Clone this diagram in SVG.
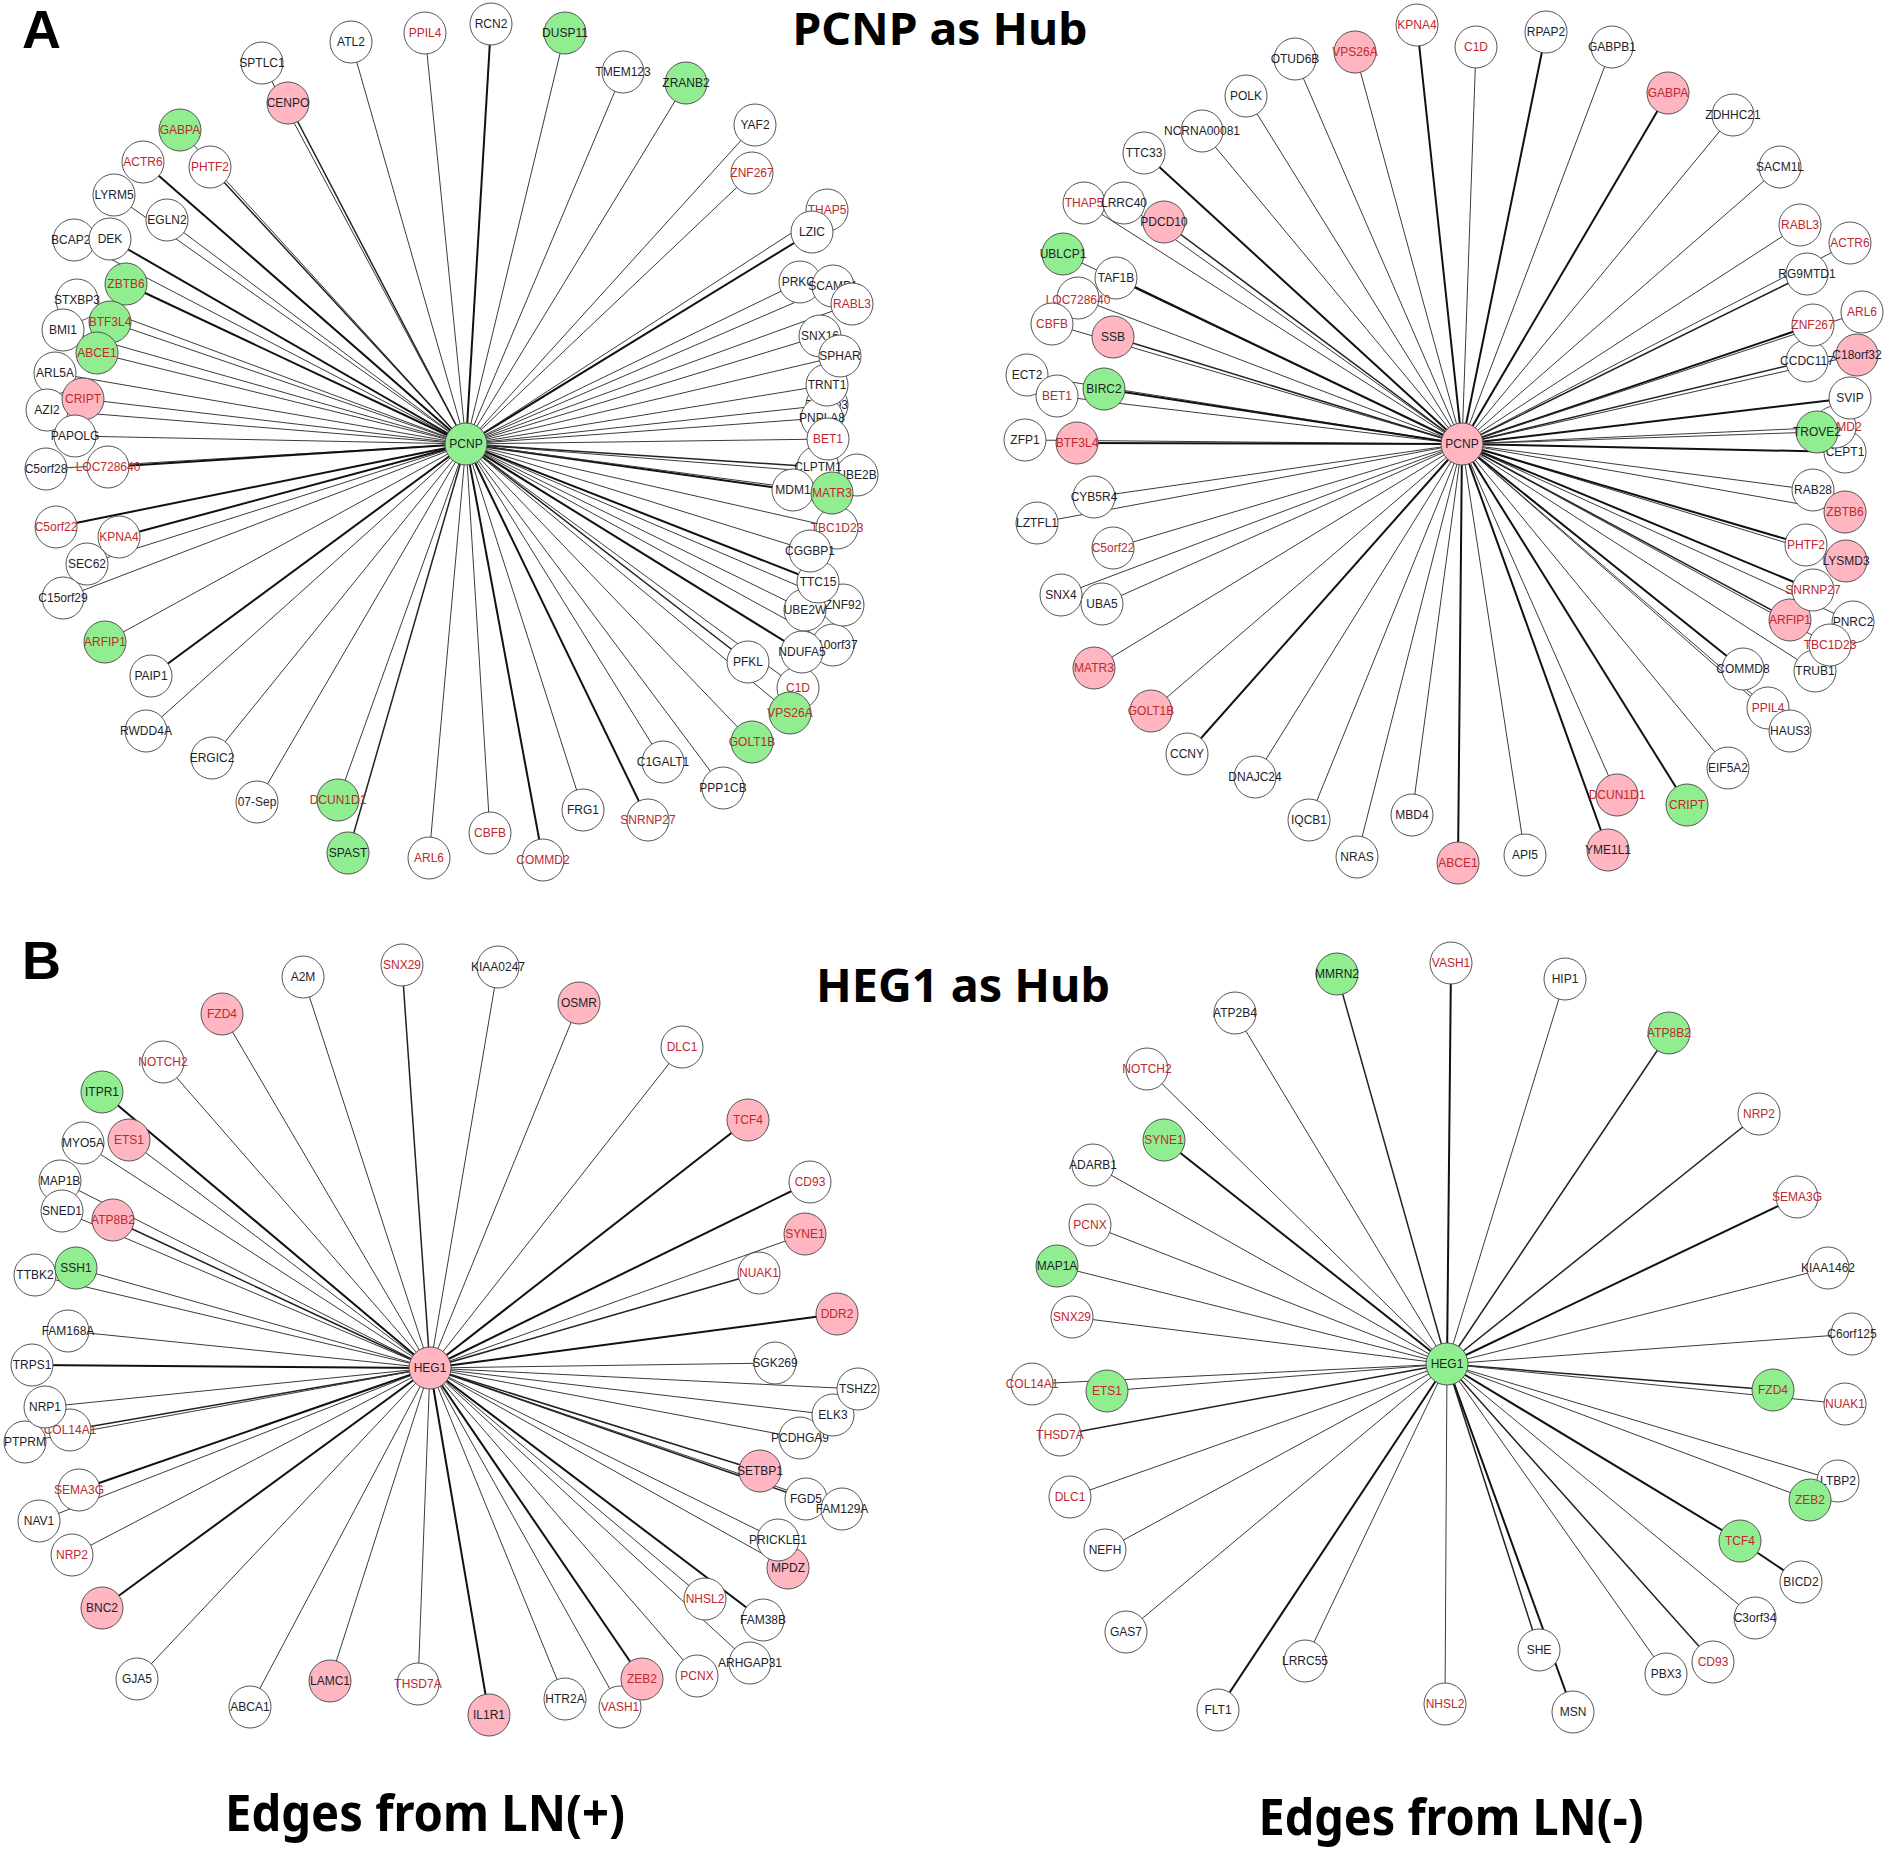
<svg xmlns="http://www.w3.org/2000/svg" width="1887" height="1850" viewBox="0 0 1887 1850">
<style>
.n circle{stroke:#555;stroke-width:1}
.w circle{fill:#fff}.p circle{fill:#ffb6c1}.g circle{fill:#90ee90}
.n text{font-family:"Liberation Sans",Arial,sans-serif;font-size:12px;text-anchor:middle}
.k text{fill:#1e1e2a}.r text{fill:#c0282d}
#connectors line{stroke:#3a3a3a;stroke-width:1}
#connectors line.b{stroke:#111;stroke-width:2}
#connectors line.m{stroke:#222;stroke-width:1.5}
.ttl{font-family:"Noto Sans","Noto Sans CJK KR",sans-serif;font-weight:bold;fill:#000;text-anchor:middle}
.pl{font-family:"Liberation Sans",Arial,sans-serif;font-weight:bold;fill:#000;font-size:54px}
</style>
<rect width="1887" height="1850" fill="#fff"/>
<g id="connectors">
<line x1="466" y1="444" x2="262" y2="63"/><line x1="466" y1="444" x2="351" y2="42"/><line x1="466" y1="444" x2="425" y2="33"/><line class="m" x1="466" y1="444" x2="288" y2="103"/><line x1="466" y1="444" x2="180" y2="130"/><line class="b" x1="466" y1="444" x2="143" y2="162"/><line class="m" x1="466" y1="444" x2="210" y2="167"/><line x1="466" y1="444" x2="114" y2="195"/><line x1="466" y1="444" x2="167" y2="220"/><line x1="466" y1="444" x2="74" y2="240"/><line class="b" x1="466" y1="444" x2="110" y2="239"/><line class="b" x1="466" y1="444" x2="126" y2="284"/><line x1="466" y1="444" x2="77" y2="300"/><line x1="466" y1="444" x2="110" y2="322"/><line x1="466" y1="444" x2="63" y2="330"/><line x1="466" y1="444" x2="97" y2="353"/><line x1="466" y1="444" x2="55" y2="373"/><line x1="466" y1="444" x2="83" y2="399"/><line x1="466" y1="444" x2="47" y2="410"/><line x1="466" y1="444" x2="75" y2="436"/><line x1="466" y1="444" x2="46" y2="469"/><line class="b" x1="466" y1="444" x2="108" y2="467"/><line class="b" x1="466" y1="444" x2="56" y2="527"/><line class="b" x1="466" y1="444" x2="119" y2="537"/><line x1="466" y1="444" x2="87" y2="564"/><line x1="466" y1="444" x2="63" y2="598"/><line x1="466" y1="444" x2="105" y2="642"/><line class="b" x1="466" y1="444" x2="151" y2="676"/><line x1="466" y1="444" x2="146" y2="731"/><line x1="466" y1="444" x2="212" y2="758"/><line x1="466" y1="444" x2="257" y2="802"/><line x1="466" y1="444" x2="338" y2="800"/><line class="m" x1="466" y1="444" x2="348" y2="853"/><line x1="466" y1="444" x2="429" y2="858"/><line x1="466" y1="444" x2="490" y2="833"/><line class="b" x1="466" y1="444" x2="543" y2="860"/><line x1="466" y1="444" x2="583" y2="810"/><line class="b" x1="466" y1="444" x2="648" y2="820"/><line x1="466" y1="444" x2="663" y2="762"/><line x1="466" y1="444" x2="723" y2="788"/><line x1="466" y1="444" x2="752" y2="742"/><line x1="466" y1="444" x2="790" y2="713"/><line x1="466" y1="444" x2="798" y2="688"/><line class="m" x1="466" y1="444" x2="748" y2="662"/><line class="b" x1="466" y1="444" x2="802" y2="652"/><line x1="466" y1="444" x2="833" y2="645"/><line x1="466" y1="444" x2="805" y2="610"/><line x1="466" y1="444" x2="843" y2="605"/><line class="b" x1="466" y1="444" x2="818" y2="582"/><line x1="466" y1="444" x2="810" y2="551"/><line x1="466" y1="444" x2="837" y2="528"/><line class="b" x1="466" y1="444" x2="793" y2="490"/><line x1="466" y1="444" x2="832" y2="493"/><line x1="466" y1="444" x2="857" y2="475"/><line class="m" x1="466" y1="444" x2="818" y2="467"/><line x1="466" y1="444" x2="828" y2="439"/><line x1="466" y1="444" x2="822" y2="418"/><line x1="466" y1="444" x2="827" y2="405"/><line x1="466" y1="444" x2="827" y2="385"/><line x1="466" y1="444" x2="840" y2="356"/><line x1="466" y1="444" x2="820" y2="336"/><line x1="466" y1="444" x2="852" y2="304"/><line x1="466" y1="444" x2="833" y2="286"/><line x1="466" y1="444" x2="800" y2="282"/><line class="b" x1="466" y1="444" x2="812" y2="232"/><line x1="466" y1="444" x2="827" y2="210"/><line x1="466" y1="444" x2="752" y2="173"/><line x1="466" y1="444" x2="755" y2="125"/><line x1="466" y1="444" x2="686" y2="83"/><line x1="466" y1="444" x2="623" y2="72"/><line x1="466" y1="444" x2="565" y2="33"/><line class="b" x1="466" y1="444" x2="491" y2="24"/>
<line class="b" x1="1462" y1="444" x2="1417" y2="25"/><line x1="1462" y1="444" x2="1355" y2="52"/><line x1="1462" y1="444" x2="1295" y2="59"/><line x1="1462" y1="444" x2="1246" y2="96"/><line x1="1462" y1="444" x2="1202" y2="131"/><line class="b" x1="1462" y1="444" x2="1144" y2="153"/><line x1="1462" y1="444" x2="1084" y2="203"/><line x1="1462" y1="444" x2="1124" y2="203"/><line class="m" x1="1462" y1="444" x2="1164" y2="222"/><line x1="1462" y1="444" x2="1063" y2="254"/><line class="b" x1="1462" y1="444" x2="1116" y2="278"/><line x1="1462" y1="444" x2="1078" y2="298"/><line x1="1462" y1="444" x2="1052" y2="324"/><line class="m" x1="1462" y1="444" x2="1113" y2="337"/><line x1="1462" y1="444" x2="1027" y2="375"/><line x1="1462" y1="444" x2="1057" y2="396"/><line class="b" x1="1462" y1="444" x2="1104" y2="389"/><line x1="1462" y1="444" x2="1025" y2="440"/><line class="b" x1="1462" y1="444" x2="1077" y2="443"/><line x1="1462" y1="444" x2="1094" y2="497"/><line x1="1462" y1="444" x2="1037" y2="523"/><line x1="1462" y1="444" x2="1113" y2="548"/><line x1="1462" y1="444" x2="1061" y2="595"/><line x1="1462" y1="444" x2="1102" y2="604"/><line x1="1462" y1="444" x2="1094" y2="668"/><line x1="1462" y1="444" x2="1151" y2="711"/><line class="b" x1="1462" y1="444" x2="1187" y2="754"/><line x1="1462" y1="444" x2="1255" y2="777"/><line x1="1462" y1="444" x2="1309" y2="820"/><line x1="1462" y1="444" x2="1357" y2="857"/><line x1="1462" y1="444" x2="1412" y2="815"/><line class="b" x1="1462" y1="444" x2="1458" y2="863"/><line x1="1462" y1="444" x2="1525" y2="855"/><line class="b" x1="1462" y1="444" x2="1608" y2="850"/><line x1="1462" y1="444" x2="1617" y2="795"/><line class="b" x1="1462" y1="444" x2="1687" y2="805"/><line x1="1462" y1="444" x2="1728" y2="768"/><line x1="1462" y1="444" x2="1790" y2="731"/><line x1="1462" y1="444" x2="1768" y2="708"/><line class="b" x1="1462" y1="444" x2="1743" y2="669"/><line x1="1462" y1="444" x2="1815" y2="671"/><line x1="1462" y1="444" x2="1830" y2="645"/><line x1="1462" y1="444" x2="1853" y2="622"/><line class="m" x1="1462" y1="444" x2="1790" y2="620"/><line class="b" x1="1462" y1="444" x2="1813" y2="590"/><line x1="1462" y1="444" x2="1846" y2="561"/><line class="b" x1="1462" y1="444" x2="1806" y2="545"/><line x1="1462" y1="444" x2="1845" y2="512"/><line x1="1462" y1="444" x2="1813" y2="490"/><line class="b" x1="1462" y1="444" x2="1845" y2="452"/><line x1="1462" y1="444" x2="1817" y2="432"/><line x1="1462" y1="444" x2="1835" y2="427"/><line class="b" x1="1462" y1="444" x2="1850" y2="398"/><line x1="1462" y1="444" x2="1857" y2="355"/><line class="m" x1="1462" y1="444" x2="1807" y2="361"/><line class="b" x1="1462" y1="444" x2="1813" y2="325"/><line x1="1462" y1="444" x2="1862" y2="312"/><line class="m" x1="1462" y1="444" x2="1807" y2="274"/><line x1="1462" y1="444" x2="1850" y2="243"/><line x1="1462" y1="444" x2="1800" y2="225"/><line x1="1462" y1="444" x2="1780" y2="167"/><line x1="1462" y1="444" x2="1733" y2="115"/><line class="b" x1="1462" y1="444" x2="1668" y2="93"/><line x1="1462" y1="444" x2="1612" y2="47"/><line class="b" x1="1462" y1="444" x2="1546" y2="32"/><line x1="1462" y1="444" x2="1476" y2="47"/>
<line x1="430" y1="1368" x2="303" y2="977"/><line class="m" x1="430" y1="1368" x2="402" y2="965"/><line x1="430" y1="1368" x2="222" y2="1014"/><line x1="430" y1="1368" x2="163" y2="1062"/><line class="b" x1="430" y1="1368" x2="102" y2="1092"/><line x1="430" y1="1368" x2="83" y2="1143"/><line x1="430" y1="1368" x2="129" y2="1140"/><line x1="430" y1="1368" x2="60" y2="1181"/><line x1="430" y1="1368" x2="62" y2="1211"/><line class="m" x1="430" y1="1368" x2="113" y2="1220"/><line x1="430" y1="1368" x2="35" y2="1275"/><line x1="430" y1="1368" x2="76" y2="1268"/><line x1="430" y1="1368" x2="68" y2="1331"/><line class="b" x1="430" y1="1368" x2="32" y2="1365"/><line x1="430" y1="1368" x2="45" y2="1407"/><line class="m" x1="430" y1="1368" x2="70" y2="1430"/><line x1="430" y1="1368" x2="25" y2="1442"/><line class="b" x1="430" y1="1368" x2="79" y2="1490"/><line x1="430" y1="1368" x2="39" y2="1521"/><line x1="430" y1="1368" x2="72" y2="1555"/><line class="b" x1="430" y1="1368" x2="102" y2="1608"/><line x1="430" y1="1368" x2="137" y2="1679"/><line x1="430" y1="1368" x2="250" y2="1707"/><line x1="430" y1="1368" x2="330" y2="1681"/><line x1="430" y1="1368" x2="418" y2="1684"/><line class="b" x1="430" y1="1368" x2="489" y2="1715"/><line x1="430" y1="1368" x2="565" y2="1699"/><line x1="430" y1="1368" x2="620" y2="1707"/><line class="b" x1="430" y1="1368" x2="642" y2="1679"/><line x1="430" y1="1368" x2="697" y2="1676"/><line x1="430" y1="1368" x2="750" y2="1663"/><line class="b" x1="430" y1="1368" x2="763" y2="1620"/><line x1="430" y1="1368" x2="705" y2="1599"/><line x1="430" y1="1368" x2="788" y2="1568"/><line x1="430" y1="1368" x2="778" y2="1540"/><line x1="430" y1="1368" x2="842" y2="1509"/><line class="m" x1="430" y1="1368" x2="806" y2="1499"/><line class="m" x1="430" y1="1368" x2="760" y2="1471"/><line x1="430" y1="1368" x2="800" y2="1438"/><line x1="430" y1="1368" x2="833" y2="1415"/><line x1="430" y1="1368" x2="858" y2="1389"/><line x1="430" y1="1368" x2="775" y2="1363"/><line class="b" x1="430" y1="1368" x2="837" y2="1314"/><line class="m" x1="430" y1="1368" x2="759" y2="1273"/><line x1="430" y1="1368" x2="805" y2="1234"/><line class="b" x1="430" y1="1368" x2="810" y2="1182"/><line class="b" x1="430" y1="1368" x2="748" y2="1120"/><line x1="430" y1="1368" x2="682" y2="1047"/><line x1="430" y1="1368" x2="579" y2="1003"/><line x1="430" y1="1368" x2="498" y2="967"/>
<line class="b" x1="1447" y1="1364" x2="1451" y2="963"/><line x1="1447" y1="1364" x2="1565" y2="979"/><line class="m" x1="1447" y1="1364" x2="1669" y2="1033"/><line class="m" x1="1447" y1="1364" x2="1759" y2="1114"/><line class="b" x1="1447" y1="1364" x2="1797" y2="1197"/><line x1="1447" y1="1364" x2="1828" y2="1268"/><line x1="1447" y1="1364" x2="1852" y2="1334"/><line class="m" x1="1447" y1="1364" x2="1773" y2="1390"/><line x1="1447" y1="1364" x2="1845" y2="1404"/><line x1="1447" y1="1364" x2="1838" y2="1481"/><line x1="1447" y1="1364" x2="1810" y2="1500"/><line class="b" x1="1447" y1="1364" x2="1740" y2="1541"/><line class="b" x1="1740" y1="1541" x2="1801" y2="1582"/><line x1="1447" y1="1364" x2="1755" y2="1618"/><line class="m" x1="1447" y1="1364" x2="1713" y2="1662"/><line x1="1447" y1="1364" x2="1666" y2="1674"/><line class="b" x1="1447" y1="1364" x2="1573" y2="1712"/><line class="m" x1="1447" y1="1364" x2="1539" y2="1650"/><line x1="1447" y1="1364" x2="1445" y2="1704"/><line class="b" x1="1447" y1="1364" x2="1218" y2="1710"/><line x1="1447" y1="1364" x2="1305" y2="1661"/><line x1="1447" y1="1364" x2="1126" y2="1632"/><line x1="1447" y1="1364" x2="1105" y2="1550"/><line x1="1447" y1="1364" x2="1070" y2="1497"/><line class="m" x1="1447" y1="1364" x2="1060" y2="1435"/><line x1="1447" y1="1364" x2="1107" y2="1391"/><line x1="1447" y1="1364" x2="1032" y2="1384"/><line x1="1447" y1="1364" x2="1072" y2="1317"/><line x1="1447" y1="1364" x2="1057" y2="1266"/><line x1="1447" y1="1364" x2="1090" y2="1225"/><line x1="1447" y1="1364" x2="1093" y2="1165"/><line class="b" x1="1447" y1="1364" x2="1164" y2="1140"/><line x1="1447" y1="1364" x2="1147" y2="1069"/><line x1="1447" y1="1364" x2="1235" y2="1013"/><line class="m" x1="1447" y1="1364" x2="1337" y2="974"/>
</g>
<g id="panelA-left">
<g id="al-SPTLC1" class="n w k"><circle cx="262" cy="63" r="21"/><text x="262" y="67">SPTLC1</text></g>
<g id="al-CENPO" class="n p k"><circle cx="288" cy="103" r="21"/><text x="288" y="107">CENPO</text></g>
<g id="al-ATL2" class="n w k"><circle cx="351" cy="42" r="21"/><text x="351" y="46">ATL2</text></g>
<g id="al-PPIL4" class="n w r"><circle cx="425" cy="33" r="21"/><text x="425" y="37">PPIL4</text></g>
<g id="al-PHTF2" class="n w r"><circle cx="210" cy="167" r="21"/><text x="210" y="171">PHTF2</text></g>
<g id="al-GABPA" class="n g r"><circle cx="180" cy="130" r="21"/><text x="180" y="134">GABPA</text></g>
<g id="al-ACTR6" class="n w r"><circle cx="143" cy="162" r="21"/><text x="143" y="166">ACTR6</text></g>
<g id="al-EGLN2" class="n w k"><circle cx="167" cy="220" r="21"/><text x="167" y="224">EGLN2</text></g>
<g id="al-LYRM5" class="n w k"><circle cx="114" cy="195" r="21"/><text x="114" y="199">LYRM5</text></g>
<g id="al-BCAP29" class="n w k"><circle cx="74" cy="240" r="21"/><text x="74" y="244">BCAP29</text></g>
<g id="al-DEK" class="n w k"><circle cx="110" cy="239" r="21"/><text x="110" y="243">DEK</text></g>
<g id="al-STXBP3" class="n w k"><circle cx="77" cy="300" r="21"/><text x="77" y="304">STXBP3</text></g>
<g id="al-ZBTB6" class="n g r"><circle cx="126" cy="284" r="21"/><text x="126" y="288">ZBTB6</text></g>
<g id="al-BMI1" class="n w k"><circle cx="63" cy="330" r="21"/><text x="63" y="334">BMI1</text></g>
<g id="al-BTF3L4" class="n g r"><circle cx="110" cy="322" r="21"/><text x="110" y="326">BTF3L4</text></g>
<g id="al-ARL5A" class="n w k"><circle cx="55" cy="373" r="21"/><text x="55" y="377">ARL5A</text></g>
<g id="al-ABCE1" class="n g r"><circle cx="97" cy="353" r="21"/><text x="97" y="357">ABCE1</text></g>
<g id="al-AZI2" class="n w k"><circle cx="47" cy="410" r="21"/><text x="47" y="414">AZI2</text></g>
<g id="al-CRIPT" class="n p r"><circle cx="83" cy="399" r="21"/><text x="83" y="403">CRIPT</text></g>
<g id="al-PAPOLG" class="n w k"><circle cx="75" cy="436" r="21"/><text x="75" y="440">PAPOLG</text></g>
<g id="al-C5orf28" class="n w k"><circle cx="46" cy="469" r="21"/><text x="46" y="473">C5orf28</text></g>
<g id="al-LOC728640" class="n w r"><circle cx="108" cy="467" r="21"/><text x="108" y="471">LOC728640</text></g>
<g id="al-C5orf22" class="n w r"><circle cx="56" cy="527" r="21"/><text x="56" y="531">C5orf22</text></g>
<g id="al-KPNA4" class="n w r"><circle cx="119" cy="537" r="21"/><text x="119" y="541">KPNA4</text></g>
<g id="al-SEC62" class="n w k"><circle cx="87" cy="564" r="21"/><text x="87" y="568">SEC62</text></g>
<g id="al-C15orf29" class="n w k"><circle cx="63" cy="598" r="21"/><text x="63" y="602">C15orf29</text></g>
<g id="al-ARFIP1" class="n g r"><circle cx="105" cy="642" r="21"/><text x="105" y="646">ARFIP1</text></g>
<g id="al-PAIP1" class="n w k"><circle cx="151" cy="676" r="21"/><text x="151" y="680">PAIP1</text></g>
<g id="al-RWDD4A" class="n w k"><circle cx="146" cy="731" r="21"/><text x="146" y="735">RWDD4A</text></g>
<g id="al-ERGIC2" class="n w k"><circle cx="212" cy="758" r="21"/><text x="212" y="762">ERGIC2</text></g>
<g id="al-07-Sep" class="n w k"><circle cx="257" cy="802" r="21"/><text x="257" y="806">07-Sep</text></g>
<g id="al-DCUN1D1" class="n g r"><circle cx="338" cy="800" r="21"/><text x="338" y="804">DCUN1D1</text></g>
<g id="al-SPAST" class="n g k"><circle cx="348" cy="853" r="21"/><text x="348" y="857">SPAST</text></g>
<g id="al-ARL6" class="n w r"><circle cx="429" cy="858" r="21"/><text x="429" y="862">ARL6</text></g>
<g id="al-CBFB" class="n w r"><circle cx="490" cy="833" r="21"/><text x="490" y="837">CBFB</text></g>
<g id="al-COMMD2" class="n w r"><circle cx="543" cy="860" r="21"/><text x="543" y="864">COMMD2</text></g>
<g id="al-FRG1" class="n w k"><circle cx="583" cy="810" r="21"/><text x="583" y="814">FRG1</text></g>
<g id="al-SNRNP27" class="n w r"><circle cx="648" cy="820" r="21"/><text x="648" y="824">SNRNP27</text></g>
<g id="al-C1GALT1" class="n w k"><circle cx="663" cy="762" r="21"/><text x="663" y="766">C1GALT1</text></g>
<g id="al-PPP1CB" class="n w k"><circle cx="723" cy="788" r="21"/><text x="723" y="792">PPP1CB</text></g>
<g id="al-GOLT1B" class="n g r"><circle cx="752" cy="742" r="21"/><text x="752" y="746">GOLT1B</text></g>
<g id="al-C1D" class="n w r"><circle cx="798" cy="688" r="21"/><text x="798" y="692">C1D</text></g>
<g id="al-VPS26A" class="n g r"><circle cx="790" cy="713" r="21"/><text x="790" y="717">VPS26A</text></g>
<g id="al-PFKL" class="n w k"><circle cx="748" cy="662" r="21"/><text x="748" y="666">PFKL</text></g>
<g id="al-C10orf37" class="n w k"><circle cx="833" cy="645" r="21"/><text x="833" y="649">C10orf37</text></g>
<g id="al-NDUFA5" class="n w k"><circle cx="802" cy="652" r="21"/><text x="802" y="656">NDUFA5</text></g>
<g id="al-ZNF92" class="n w k"><circle cx="843" cy="605" r="21"/><text x="843" y="609">ZNF92</text></g>
<g id="al-UBE2W" class="n w k"><circle cx="805" cy="610" r="21"/><text x="805" y="614">UBE2W</text></g>
<g id="al-TTC15" class="n w k"><circle cx="818" cy="582" r="21"/><text x="818" y="586">TTC15</text></g>
<g id="al-TBC1D23" class="n w r"><circle cx="837" cy="528" r="21"/><text x="837" y="532">TBC1D23</text></g>
<g id="al-CGGBP1" class="n w k"><circle cx="810" cy="551" r="21"/><text x="810" y="555">CGGBP1</text></g>
<g id="al-UBE2B" class="n w k"><circle cx="857" cy="475" r="21"/><text x="857" y="479">UBE2B</text></g>
<g id="al-CLPTM1" class="n w k"><circle cx="818" cy="467" r="21"/><text x="818" y="471">CLPTM1</text></g>
<g id="al-MDM1" class="n w k"><circle cx="793" cy="490" r="21"/><text x="793" y="494">MDM1</text></g>
<g id="al-MATR3" class="n g r"><circle cx="832" cy="493" r="21"/><text x="832" y="497">MATR3</text></g>
<g id="al-TMOD3" class="n w k"><circle cx="827" cy="405" r="21"/><text x="827" y="409">TMOD3</text></g>
<g id="al-PNPLA8" class="n w k"><circle cx="822" cy="418" r="21"/><text x="822" y="422">PNPLA8</text></g>
<g id="al-BET1" class="n w r"><circle cx="828" cy="439" r="21"/><text x="828" y="443">BET1</text></g>
<g id="al-TRNT1" class="n w k"><circle cx="827" cy="385" r="21"/><text x="827" y="389">TRNT1</text></g>
<g id="al-SNX16" class="n w k"><circle cx="820" cy="336" r="21"/><text x="820" y="340">SNX16</text></g>
<g id="al-SPHAR" class="n w k"><circle cx="840" cy="356" r="21"/><text x="840" y="360">SPHAR</text></g>
<g id="al-PRKCI" class="n w k"><circle cx="800" cy="282" r="21"/><text x="800" y="286">PRKCI</text></g>
<g id="al-SCAMP1" class="n w k"><circle cx="833" cy="286" r="21"/><text x="833" y="290">SCAMP1</text></g>
<g id="al-RABL3" class="n w r"><circle cx="852" cy="304" r="21"/><text x="852" y="308">RABL3</text></g>
<g id="al-THAP5" class="n w r"><circle cx="827" cy="210" r="21"/><text x="827" y="214">THAP5</text></g>
<g id="al-LZIC" class="n w k"><circle cx="812" cy="232" r="21"/><text x="812" y="236">LZIC</text></g>
<g id="al-ZNF267" class="n w r"><circle cx="752" cy="173" r="21"/><text x="752" y="177">ZNF267</text></g>
<g id="al-YAF2" class="n w k"><circle cx="755" cy="125" r="21"/><text x="755" y="129">YAF2</text></g>
<g id="al-ZRANB2" class="n g k"><circle cx="686" cy="83" r="21"/><text x="686" y="87">ZRANB2</text></g>
<g id="al-TMEM123" class="n w k"><circle cx="623" cy="72" r="21"/><text x="623" y="76">TMEM123</text></g>
<g id="al-DUSP11" class="n g k"><circle cx="565" cy="33" r="21"/><text x="565" y="37">DUSP11</text></g>
<g id="al-RCN2" class="n w k"><circle cx="491" cy="24" r="21"/><text x="491" y="28">RCN2</text></g>
<g id="al-PCNP" class="n g k"><circle cx="466" cy="444" r="21"/><text x="466" y="448">PCNP</text></g>
</g>
<g id="panelA-right">
<g id="ar-KPNA4" class="n w r"><circle cx="1417" cy="25" r="21"/><text x="1417" y="29">KPNA4</text></g>
<g id="ar-VPS26A" class="n p r"><circle cx="1355" cy="52" r="21"/><text x="1355" y="56">VPS26A</text></g>
<g id="ar-OTUD6B" class="n w k"><circle cx="1295" cy="59" r="21"/><text x="1295" y="63">OTUD6B</text></g>
<g id="ar-POLK" class="n w k"><circle cx="1246" cy="96" r="21"/><text x="1246" y="100">POLK</text></g>
<g id="ar-NCRNA00081" class="n w k"><circle cx="1202" cy="131" r="21"/><text x="1202" y="135">NCRNA00081</text></g>
<g id="ar-TTC33" class="n w k"><circle cx="1144" cy="153" r="21"/><text x="1144" y="157">TTC33</text></g>
<g id="ar-THAP5" class="n w r"><circle cx="1084" cy="203" r="21"/><text x="1084" y="207">THAP5</text></g>
<g id="ar-LRRC40" class="n w k"><circle cx="1124" cy="203" r="21"/><text x="1124" y="207">LRRC40</text></g>
<g id="ar-PDCD10" class="n p k"><circle cx="1164" cy="222" r="21"/><text x="1164" y="226">PDCD10</text></g>
<g id="ar-UBLCP1" class="n g k"><circle cx="1063" cy="254" r="21"/><text x="1063" y="258">UBLCP1</text></g>
<g id="ar-TAF1B" class="n w k"><circle cx="1116" cy="278" r="21"/><text x="1116" y="282">TAF1B</text></g>
<g id="ar-LOC728640" class="n w r"><circle cx="1078" cy="298" r="21"/><text x="1078" y="304">LOC728640</text></g>
<g id="ar-CBFB" class="n w r"><circle cx="1052" cy="324" r="21"/><text x="1052" y="328">CBFB</text></g>
<g id="ar-SSB" class="n p k"><circle cx="1113" cy="337" r="21"/><text x="1113" y="341">SSB</text></g>
<g id="ar-ECT2" class="n w k"><circle cx="1027" cy="375" r="21"/><text x="1027" y="379">ECT2</text></g>
<g id="ar-BET1" class="n w r"><circle cx="1057" cy="396" r="21"/><text x="1057" y="400">BET1</text></g>
<g id="ar-BIRC2" class="n g k"><circle cx="1104" cy="389" r="21"/><text x="1104" y="393">BIRC2</text></g>
<g id="ar-ZFP1" class="n w k"><circle cx="1025" cy="440" r="21"/><text x="1025" y="444">ZFP1</text></g>
<g id="ar-BTF3L4" class="n p r"><circle cx="1077" cy="443" r="21"/><text x="1077" y="447">BTF3L4</text></g>
<g id="ar-CYB5R4" class="n w k"><circle cx="1094" cy="497" r="21"/><text x="1094" y="501">CYB5R4</text></g>
<g id="ar-LZTFL1" class="n w k"><circle cx="1037" cy="523" r="21"/><text x="1037" y="527">LZTFL1</text></g>
<g id="ar-C5orf22" class="n w r"><circle cx="1113" cy="548" r="21"/><text x="1113" y="552">C5orf22</text></g>
<g id="ar-SNX4" class="n w k"><circle cx="1061" cy="595" r="21"/><text x="1061" y="599">SNX4</text></g>
<g id="ar-UBA5" class="n w k"><circle cx="1102" cy="604" r="21"/><text x="1102" y="608">UBA5</text></g>
<g id="ar-MATR3" class="n p r"><circle cx="1094" cy="668" r="21"/><text x="1094" y="672">MATR3</text></g>
<g id="ar-GOLT1B" class="n p r"><circle cx="1151" cy="711" r="21"/><text x="1151" y="715">GOLT1B</text></g>
<g id="ar-CCNY" class="n w k"><circle cx="1187" cy="754" r="21"/><text x="1187" y="758">CCNY</text></g>
<g id="ar-DNAJC24" class="n w k"><circle cx="1255" cy="777" r="21"/><text x="1255" y="781">DNAJC24</text></g>
<g id="ar-IQCB1" class="n w k"><circle cx="1309" cy="820" r="21"/><text x="1309" y="824">IQCB1</text></g>
<g id="ar-NRAS" class="n w k"><circle cx="1357" cy="857" r="21"/><text x="1357" y="861">NRAS</text></g>
<g id="ar-MBD4" class="n w k"><circle cx="1412" cy="815" r="21"/><text x="1412" y="819">MBD4</text></g>
<g id="ar-ABCE1" class="n p r"><circle cx="1458" cy="863" r="21"/><text x="1458" y="867">ABCE1</text></g>
<g id="ar-API5" class="n w k"><circle cx="1525" cy="855" r="21"/><text x="1525" y="859">API5</text></g>
<g id="ar-DCUN1D1" class="n p r"><circle cx="1617" cy="795" r="21"/><text x="1617" y="799">DCUN1D1</text></g>
<g id="ar-YME1L1" class="n p k"><circle cx="1608" cy="850" r="21"/><text x="1608" y="854">YME1L1</text></g>
<g id="ar-CRIPT" class="n g r"><circle cx="1687" cy="805" r="21"/><text x="1687" y="809">CRIPT</text></g>
<g id="ar-EIF5A2" class="n w k"><circle cx="1728" cy="768" r="21"/><text x="1728" y="772">EIF5A2</text></g>
<g id="ar-PPIL4" class="n w r"><circle cx="1768" cy="708" r="21"/><text x="1768" y="712">PPIL4</text></g>
<g id="ar-HAUS3" class="n w k"><circle cx="1790" cy="731" r="21"/><text x="1790" y="735">HAUS3</text></g>
<g id="ar-COMMD8" class="n w k"><circle cx="1743" cy="669" r="21"/><text x="1743" y="673">COMMD8</text></g>
<g id="ar-TRUB1" class="n w k"><circle cx="1815" cy="671" r="21"/><text x="1815" y="675">TRUB1</text></g>
<g id="ar-PNRC2" class="n w k"><circle cx="1853" cy="622" r="21"/><text x="1853" y="626">PNRC2</text></g>
<g id="ar-TBC1D23" class="n w r"><circle cx="1830" cy="645" r="21"/><text x="1830" y="649">TBC1D23</text></g>
<g id="ar-ARFIP1" class="n p r"><circle cx="1790" cy="620" r="21"/><text x="1790" y="624">ARFIP1</text></g>
<g id="ar-SNRNP27" class="n w r"><circle cx="1813" cy="590" r="21"/><text x="1813" y="594">SNRNP27</text></g>
<g id="ar-LYSMD3" class="n p k"><circle cx="1846" cy="561" r="21"/><text x="1846" y="565">LYSMD3</text></g>
<g id="ar-PHTF2" class="n w r"><circle cx="1806" cy="545" r="21"/><text x="1806" y="549">PHTF2</text></g>
<g id="ar-RAB28" class="n w k"><circle cx="1813" cy="490" r="21"/><text x="1813" y="494">RAB28</text></g>
<g id="ar-ZBTB6" class="n p r"><circle cx="1845" cy="512" r="21"/><text x="1845" y="516">ZBTB6</text></g>
<g id="ar-CEPT1" class="n w k"><circle cx="1845" cy="452" r="21"/><text x="1845" y="456">CEPT1</text></g>
<g id="ar-COMMD2" class="n w r"><circle cx="1835" cy="427" r="21"/><text x="1835" y="431">COMMD2</text></g>
<g id="ar-TROVE2" class="n g k"><circle cx="1817" cy="432" r="21"/><text x="1817" y="436">TROVE2</text></g>
<g id="ar-SVIP" class="n w k"><circle cx="1850" cy="398" r="21"/><text x="1850" y="402">SVIP</text></g>
<g id="ar-CCDC117" class="n w k"><circle cx="1807" cy="361" r="21"/><text x="1807" y="365">CCDC117</text></g>
<g id="ar-C18orf32" class="n p k"><circle cx="1857" cy="355" r="21"/><text x="1857" y="359">C18orf32</text></g>
<g id="ar-ZNF267" class="n w r"><circle cx="1813" cy="325" r="21"/><text x="1813" y="329">ZNF267</text></g>
<g id="ar-ARL6" class="n w r"><circle cx="1862" cy="312" r="21"/><text x="1862" y="316">ARL6</text></g>
<g id="ar-RG9MTD1" class="n w k"><circle cx="1807" cy="274" r="21"/><text x="1807" y="278">RG9MTD1</text></g>
<g id="ar-ACTR6" class="n w r"><circle cx="1850" cy="243" r="21"/><text x="1850" y="247">ACTR6</text></g>
<g id="ar-RABL3" class="n w r"><circle cx="1800" cy="225" r="21"/><text x="1800" y="229">RABL3</text></g>
<g id="ar-SACM1L" class="n w k"><circle cx="1780" cy="167" r="21"/><text x="1780" y="171">SACM1L</text></g>
<g id="ar-ZDHHC21" class="n w k"><circle cx="1733" cy="115" r="21"/><text x="1733" y="119">ZDHHC21</text></g>
<g id="ar-GABPA" class="n p r"><circle cx="1668" cy="93" r="21"/><text x="1668" y="97">GABPA</text></g>
<g id="ar-GABPB1" class="n w k"><circle cx="1612" cy="47" r="21"/><text x="1612" y="51">GABPB1</text></g>
<g id="ar-RPAP2" class="n w k"><circle cx="1546" cy="32" r="21"/><text x="1546" y="36">RPAP2</text></g>
<g id="ar-C1D" class="n w r"><circle cx="1476" cy="47" r="21"/><text x="1476" y="51">C1D</text></g>
<g id="ar-PCNP" class="n p k"><circle cx="1462" cy="444" r="21"/><text x="1462" y="448">PCNP</text></g>
</g>
<g id="panelB-left">
<g id="bl-A2M" class="n w k"><circle cx="303" cy="977" r="21"/><text x="303" y="981">A2M</text></g>
<g id="bl-SNX29" class="n w r"><circle cx="402" cy="965" r="21"/><text x="402" y="969">SNX29</text></g>
<g id="bl-FZD4" class="n p r"><circle cx="222" cy="1014" r="21"/><text x="222" y="1018">FZD4</text></g>
<g id="bl-NOTCH2" class="n w r"><circle cx="163" cy="1062" r="21"/><text x="163" y="1066">NOTCH2</text></g>
<g id="bl-ITPR1" class="n g k"><circle cx="102" cy="1092" r="21"/><text x="102" y="1096">ITPR1</text></g>
<g id="bl-MYO5A" class="n w k"><circle cx="83" cy="1143" r="21"/><text x="83" y="1147">MYO5A</text></g>
<g id="bl-ETS1" class="n p r"><circle cx="129" cy="1140" r="21"/><text x="129" y="1144">ETS1</text></g>
<g id="bl-MAP1B" class="n w k"><circle cx="60" cy="1181" r="21"/><text x="60" y="1185">MAP1B</text></g>
<g id="bl-SNED1" class="n w k"><circle cx="62" cy="1211" r="21"/><text x="62" y="1215">SNED1</text></g>
<g id="bl-ATP8B2" class="n p r"><circle cx="113" cy="1220" r="21"/><text x="113" y="1224">ATP8B2</text></g>
<g id="bl-TTBK2" class="n w k"><circle cx="35" cy="1275" r="21"/><text x="35" y="1279">TTBK2</text></g>
<g id="bl-SSH1" class="n g k"><circle cx="76" cy="1268" r="21"/><text x="76" y="1272">SSH1</text></g>
<g id="bl-FAM168A" class="n w k"><circle cx="68" cy="1331" r="21"/><text x="68" y="1335">FAM168A</text></g>
<g id="bl-TRPS1" class="n w k"><circle cx="32" cy="1365" r="21"/><text x="32" y="1369">TRPS1</text></g>
<g id="bl-PTPRM" class="n w k"><circle cx="25" cy="1442" r="21"/><text x="25" y="1446">PTPRM</text></g>
<g id="bl-COL14A1" class="n w r"><circle cx="70" cy="1430" r="21"/><text x="70" y="1434">COL14A1</text></g>
<g id="bl-NRP1" class="n w k"><circle cx="45" cy="1407" r="21"/><text x="45" y="1411">NRP1</text></g>
<g id="bl-NAV1" class="n w k"><circle cx="39" cy="1521" r="21"/><text x="39" y="1525">NAV1</text></g>
<g id="bl-SEMA3G" class="n w r"><circle cx="79" cy="1490" r="21"/><text x="79" y="1494">SEMA3G</text></g>
<g id="bl-NRP2" class="n w r"><circle cx="72" cy="1555" r="21"/><text x="72" y="1559">NRP2</text></g>
<g id="bl-BNC2" class="n p k"><circle cx="102" cy="1608" r="21"/><text x="102" y="1612">BNC2</text></g>
<g id="bl-GJA5" class="n w k"><circle cx="137" cy="1679" r="21"/><text x="137" y="1683">GJA5</text></g>
<g id="bl-ABCA1" class="n w k"><circle cx="250" cy="1707" r="21"/><text x="250" y="1711">ABCA1</text></g>
<g id="bl-LAMC1" class="n p k"><circle cx="330" cy="1681" r="21"/><text x="330" y="1685">LAMC1</text></g>
<g id="bl-THSD7A" class="n w r"><circle cx="418" cy="1684" r="21"/><text x="418" y="1688">THSD7A</text></g>
<g id="bl-IL1R1" class="n p k"><circle cx="489" cy="1715" r="21"/><text x="489" y="1719">IL1R1</text></g>
<g id="bl-HTR2A" class="n w k"><circle cx="565" cy="1699" r="21"/><text x="565" y="1703">HTR2A</text></g>
<g id="bl-VASH1" class="n w r"><circle cx="620" cy="1707" r="21"/><text x="620" y="1711">VASH1</text></g>
<g id="bl-ZEB2" class="n p r"><circle cx="642" cy="1679" r="21"/><text x="642" y="1683">ZEB2</text></g>
<g id="bl-PCNX" class="n w r"><circle cx="697" cy="1676" r="21"/><text x="697" y="1680">PCNX</text></g>
<g id="bl-ARHGAP31" class="n w k"><circle cx="750" cy="1663" r="21"/><text x="750" y="1667">ARHGAP31</text></g>
<g id="bl-FAM38B" class="n w k"><circle cx="763" cy="1620" r="21"/><text x="763" y="1624">FAM38B</text></g>
<g id="bl-NHSL2" class="n w r"><circle cx="705" cy="1599" r="21"/><text x="705" y="1603">NHSL2</text></g>
<g id="bl-MPDZ" class="n p k"><circle cx="788" cy="1568" r="21"/><text x="788" y="1572">MPDZ</text></g>
<g id="bl-PRICKLE1" class="n w k"><circle cx="778" cy="1540" r="21"/><text x="778" y="1544">PRICKLE1</text></g>
<g id="bl-FGD5" class="n w k"><circle cx="806" cy="1499" r="21"/><text x="806" y="1503">FGD5</text></g>
<g id="bl-FAM129A" class="n w k"><circle cx="842" cy="1509" r="21"/><text x="842" y="1513">FAM129A</text></g>
<g id="bl-SETBP1" class="n p k"><circle cx="760" cy="1471" r="21"/><text x="760" y="1475">SETBP1</text></g>
<g id="bl-PCDHGA9" class="n w k"><circle cx="800" cy="1438" r="21"/><text x="800" y="1442">PCDHGA9</text></g>
<g id="bl-ELK3" class="n w k"><circle cx="833" cy="1415" r="21"/><text x="833" y="1419">ELK3</text></g>
<g id="bl-TSHZ2" class="n w k"><circle cx="858" cy="1389" r="21"/><text x="858" y="1393">TSHZ2</text></g>
<g id="bl-SGK269" class="n w k"><circle cx="775" cy="1363" r="21"/><text x="775" y="1367">SGK269</text></g>
<g id="bl-DDR2" class="n p r"><circle cx="837" cy="1314" r="21"/><text x="837" y="1318">DDR2</text></g>
<g id="bl-NUAK1" class="n w r"><circle cx="759" cy="1273" r="21"/><text x="759" y="1277">NUAK1</text></g>
<g id="bl-SYNE1" class="n p r"><circle cx="805" cy="1234" r="21"/><text x="805" y="1238">SYNE1</text></g>
<g id="bl-CD93" class="n w r"><circle cx="810" cy="1182" r="21"/><text x="810" y="1186">CD93</text></g>
<g id="bl-TCF4" class="n p r"><circle cx="748" cy="1120" r="21"/><text x="748" y="1124">TCF4</text></g>
<g id="bl-DLC1" class="n w r"><circle cx="682" cy="1047" r="21"/><text x="682" y="1051">DLC1</text></g>
<g id="bl-OSMR" class="n p k"><circle cx="579" cy="1003" r="21"/><text x="579" y="1007">OSMR</text></g>
<g id="bl-KIAA0247" class="n w k"><circle cx="498" cy="967" r="21"/><text x="498" y="971">KIAA0247</text></g>
<g id="bl-HEG1" class="n p k"><circle cx="430" cy="1368" r="21"/><text x="430" y="1372">HEG1</text></g>
</g>
<g id="panelB-right">
<g id="br-VASH1" class="n w r"><circle cx="1451" cy="963" r="21"/><text x="1451" y="967">VASH1</text></g>
<g id="br-HIP1" class="n w k"><circle cx="1565" cy="979" r="21"/><text x="1565" y="983">HIP1</text></g>
<g id="br-ATP8B2" class="n g r"><circle cx="1669" cy="1033" r="21"/><text x="1669" y="1037">ATP8B2</text></g>
<g id="br-NRP2" class="n w r"><circle cx="1759" cy="1114" r="21"/><text x="1759" y="1118">NRP2</text></g>
<g id="br-SEMA3G" class="n w r"><circle cx="1797" cy="1197" r="21"/><text x="1797" y="1201">SEMA3G</text></g>
<g id="br-KIAA1462" class="n w k"><circle cx="1828" cy="1268" r="21"/><text x="1828" y="1272">KIAA1462</text></g>
<g id="br-C6orf125" class="n w k"><circle cx="1852" cy="1334" r="21"/><text x="1852" y="1338">C6orf125</text></g>
<g id="br-NUAK1" class="n w r"><circle cx="1845" cy="1404" r="21"/><text x="1845" y="1408">NUAK1</text></g>
<g id="br-FZD4" class="n g r"><circle cx="1773" cy="1390" r="21"/><text x="1773" y="1394">FZD4</text></g>
<g id="br-LTBP2" class="n w k"><circle cx="1838" cy="1481" r="21"/><text x="1838" y="1485">LTBP2</text></g>
<g id="br-ZEB2" class="n g r"><circle cx="1810" cy="1500" r="21"/><text x="1810" y="1504">ZEB2</text></g>
<g id="br-BICD2" class="n w k"><circle cx="1801" cy="1582" r="21"/><text x="1801" y="1586">BICD2</text></g>
<g id="br-TCF4" class="n g r"><circle cx="1740" cy="1541" r="21"/><text x="1740" y="1545">TCF4</text></g>
<g id="br-C3orf34" class="n w k"><circle cx="1755" cy="1618" r="21"/><text x="1755" y="1622">C3orf34</text></g>
<g id="br-CD93" class="n w r"><circle cx="1713" cy="1662" r="21"/><text x="1713" y="1666">CD93</text></g>
<g id="br-PBX3" class="n w k"><circle cx="1666" cy="1674" r="21"/><text x="1666" y="1678">PBX3</text></g>
<g id="br-MSN" class="n w k"><circle cx="1573" cy="1712" r="21"/><text x="1573" y="1716">MSN</text></g>
<g id="br-SHE" class="n w k"><circle cx="1539" cy="1650" r="21"/><text x="1539" y="1654">SHE</text></g>
<g id="br-NHSL2" class="n w r"><circle cx="1445" cy="1704" r="21"/><text x="1445" y="1708">NHSL2</text></g>
<g id="br-FLT1" class="n w k"><circle cx="1218" cy="1710" r="21"/><text x="1218" y="1714">FLT1</text></g>
<g id="br-LRRC55" class="n w k"><circle cx="1305" cy="1661" r="21"/><text x="1305" y="1665">LRRC55</text></g>
<g id="br-GAS7" class="n w k"><circle cx="1126" cy="1632" r="21"/><text x="1126" y="1636">GAS7</text></g>
<g id="br-NEFH" class="n w k"><circle cx="1105" cy="1550" r="21"/><text x="1105" y="1554">NEFH</text></g>
<g id="br-DLC1" class="n w r"><circle cx="1070" cy="1497" r="21"/><text x="1070" y="1501">DLC1</text></g>
<g id="br-THSD7A" class="n w r"><circle cx="1060" cy="1435" r="21"/><text x="1060" y="1439">THSD7A</text></g>
<g id="br-COL14A1" class="n w r"><circle cx="1032" cy="1384" r="21"/><text x="1032" y="1388">COL14A1</text></g>
<g id="br-ETS1" class="n g r"><circle cx="1107" cy="1391" r="21"/><text x="1107" y="1395">ETS1</text></g>
<g id="br-SNX29" class="n w r"><circle cx="1072" cy="1317" r="21"/><text x="1072" y="1321">SNX29</text></g>
<g id="br-MAP1A" class="n g k"><circle cx="1057" cy="1266" r="21"/><text x="1057" y="1270">MAP1A</text></g>
<g id="br-PCNX" class="n w r"><circle cx="1090" cy="1225" r="21"/><text x="1090" y="1229">PCNX</text></g>
<g id="br-ADARB1" class="n w k"><circle cx="1093" cy="1165" r="21"/><text x="1093" y="1169">ADARB1</text></g>
<g id="br-SYNE1" class="n g r"><circle cx="1164" cy="1140" r="21"/><text x="1164" y="1144">SYNE1</text></g>
<g id="br-NOTCH2" class="n w r"><circle cx="1147" cy="1069" r="21"/><text x="1147" y="1073">NOTCH2</text></g>
<g id="br-ATP2B4" class="n w k"><circle cx="1235" cy="1013" r="21"/><text x="1235" y="1017">ATP2B4</text></g>
<g id="br-MMRN2" class="n g k"><circle cx="1337" cy="974" r="21"/><text x="1337" y="978">MMRN2</text></g>
<g id="br-HEG1" class="n g k"><circle cx="1447" cy="1364" r="21"/><text x="1447" y="1368">HEG1</text></g>
</g>
<g id="labels">
<text class="pl" x="22" y="48">A</text>
<text class="pl" x="22" y="979">B</text>
<text class="ttl" x="940" y="45" font-size="45" textLength="295" lengthAdjust="spacingAndGlyphs">PCNP as Hub</text>
<text class="ttl" x="963" y="1002" font-size="47" textLength="294" lengthAdjust="spacingAndGlyphs">HEG1 as Hub</text>
<text class="ttl" x="425" y="1831" font-size="50" textLength="400" lengthAdjust="spacingAndGlyphs">Edges from LN(+)</text>
<text class="ttl" x="1451" y="1835" font-size="50" textLength="385" lengthAdjust="spacingAndGlyphs">Edges from LN(-)</text>
</g>
</svg>
